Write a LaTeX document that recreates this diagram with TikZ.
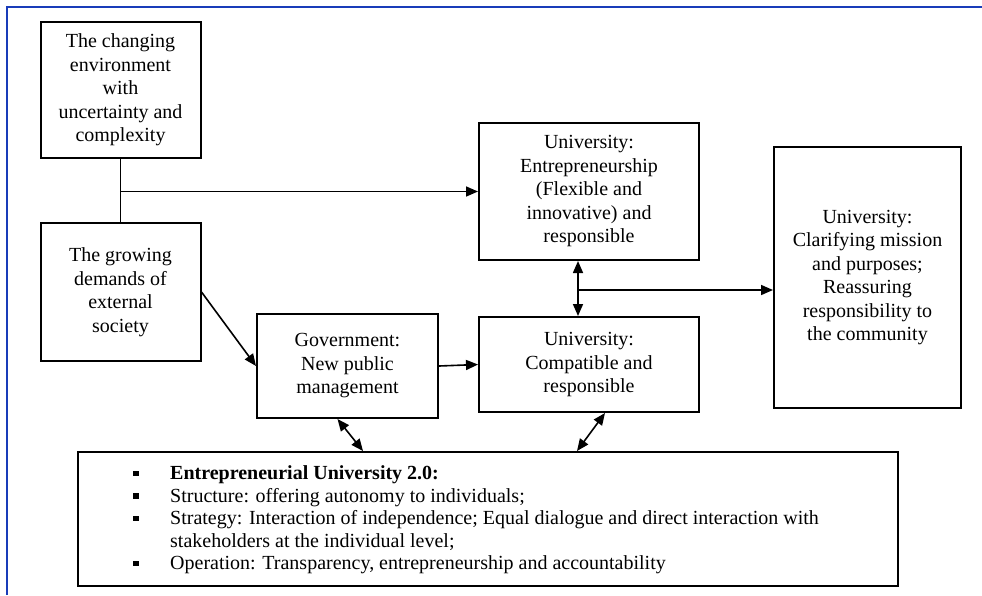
\documentclass[tikz,border=0pt]{standalone}
\usepackage{fontspec}
\setmainfont{Liberation Serif}
\usetikzlibrary{arrows.meta,calc}
\definecolor{frameblue}{RGB}{25,60,185}
\newcommand\sqbul{\rule[3.5pt]{5.5pt}{5.5pt}}
\begin{document}
\begin{tikzpicture}[x=1pt,y=-1pt,
  box/.style={draw, line width=2pt, inner sep=0pt, align=center,
    font=\fontsize{20}{23.5}\selectfont},
  arr/.style={line width=1.6pt, -{Triangle[length=12pt,width=10pt]}},
  darr/.style={line width=1.6pt, {Triangle[length=12pt,width=10pt]}-{Triangle[length=12pt,width=10pt]}},
  plain/.style={line width=1.5pt}]
\useasboundingbox (0,0) rectangle (982,595);
\draw[frameblue, line width=2.5pt] (7,595) -- (7,7) -- (982,7);

\node[box, minimum width=160, minimum height=136] (A) at (120.5,90)
  {The changing\\environment\\with\\uncertainty and\\complexity};
\node[box, minimum width=160, minimum height=138] (B) at (120.5,292)
  {The growing\\demands of\\external\\society};
\node[box, minimum width=220, minimum height=137] (U1) at (589,191.5)
  {University:\\Entrepreneurship\\(Flexible and\\innovative) and\\responsible};
\node[box, minimum width=181, minimum height=104] (G) at (347.5,366)
  {Government:\\New public\\management};
\node[box, minimum width=220, minimum height=95] (U2) at (589,364.5)
  {University:\\Compatible and\\responsible};
\node[box, minimum width=187, minimum height=261] (R) at (867.5,277.5)
  {University:\\Clarifying mission\\and purposes;\\Reassuring\\responsibility to\\the community};
\node[draw, line width=2pt, inner sep=0pt, minimum width=820, minimum height=134] (E) at (488,519) {};
\node[anchor=west, inner sep=0pt, font=\fontsize{20}{22.5}\selectfont] (Et) at (133,520)
  {\begin{tabular}{@{}p{37pt}@{}l@{}}
   \sqbul & \textbf{Entrepreneurial University 2.0:}\\
   \sqbul & Structure: offering autonomy to individuals;\\
   \sqbul & Strategy: Interaction of independence; Equal dialogue and direct interaction with\\
          & stakeholders at the individual level;\\
   \sqbul & Operation: Transparency, entrepreneurship and accountability
   \end{tabular}};

\coordinate (m1) at (578,290);
\draw[plain] (A.south) -- (B.north);
\draw[arr] (A.south |- U1.west) -- (U1.west);
\draw[arr] (B.east) -- (G.west);
\draw[arr] (G.east) -- (U2.west);
\draw[darr] (m1 |- U1.south) -- (m1 |- U2.north);
\draw[arr] (m1) -- (m1 -| R.west);
\draw[darr] ($(G.south)+(-10,0)$) -- ($(E.north west)+(286,0)$);
\draw[darr] ($(U2.south)+(16,0)$) -- ($(E.north west)+(500,0)$);
\end{tikzpicture}
\end{document}
